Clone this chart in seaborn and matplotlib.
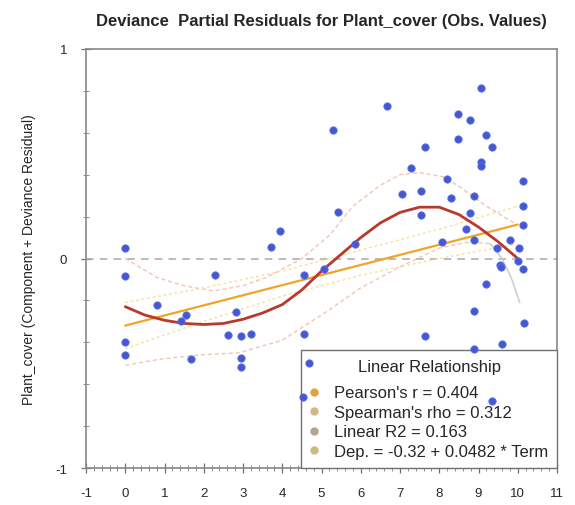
import matplotlib
matplotlib.use("Agg")
import matplotlib.pyplot as plt
from matplotlib.lines import Line2D
from matplotlib.ticker import MultipleLocator
import seaborn as sns
import pandas as pd

# ---------------- data ----------------
term_x = [0, 0, 0, 0, 0.82, 1.42, 1.55, 1.68, 2.28, 2.62, 2.81, 2.94, 2.94, 2.94,
          3.21, 3.71, 3.95, 4.53, 4.55, 4.55, 4.69, 5.06, 5.30, 5.41, 5.85, 6.68,
          7.05, 7.29, 7.54, 7.54, 7.63, 7.63, 8.08, 8.19, 8.29, 8.49, 8.49, 8.68,
          8.78, 8.79, 8.89, 8.89, 8.89, 8.89, 9.06, 9.06, 9.06, 9.18, 9.19, 9.35,
          9.35, 9.47, 9.55, 9.58, 9.60, 9.79, 10.0, 10.03, 10.14, 10.14, 10.14,
          10.14, 10.15]
resid_y = [0.05, -0.085, -0.40, -0.46, -0.22, -0.30, -0.27, -0.48, -0.08, -0.365,
           -0.255, -0.37, -0.475, -0.52, -0.36, 0.056, 0.13, -0.66, -0.08, -0.36,
           -0.50, -0.05, 0.615, 0.22, 0.07, 0.73, 0.31, 0.43, 0.32, 0.21, 0.53,
           -0.37, 0.08, 0.38, 0.29, 0.69, 0.57, 0.14, 0.66, 0.215, 0.30, 0.09,
           -0.25, -0.43, 0.815, 0.46, 0.44, 0.59, -0.12, 0.53, -0.68, 0.05, -0.03,
           -0.04, -0.41, 0.09, -0.01, 0.05, 0.37, 0.25, 0.16, -0.05, -0.31]

# smoother (red) curve
smooth_x = [0, 0.5, 1.0, 1.5, 2.0, 2.5, 3.0, 3.5, 4.0, 4.5, 5.0, 5.5, 6.0, 6.5,
            7.0, 7.5, 8.0, 8.5, 9.0, 9.5, 10.0]
smooth_y = [-0.23, -0.27, -0.295, -0.31, -0.315, -0.31, -0.29, -0.26, -0.22, -0.15,
            -0.06, 0.02, 0.10, 0.17, 0.22, 0.245, 0.245, 0.21, 0.15, 0.08, 0.0]

# smoother confidence band
band_up_x = [0, 0.8, 1.5, 2.25, 3.0, 3.6, 4.5, 5.2, 5.8, 6.5, 7.0, 7.5, 8.1, 8.5, 9.2, 9.9]
band_up_y = [0.0, -0.09, -0.13, -0.155, -0.13, -0.09, 0.0, 0.11, 0.25, 0.35, 0.40,
             0.41, 0.39, 0.345, 0.25, 0.17]
band_lo_x = [0, 0.9, 1.9, 2.9, 4.0, 5.2, 6.0, 7.0, 8.0, 8.8, 9.3]
band_lo_y = [-0.51, -0.48, -0.46, -0.45, -0.39, -0.245, -0.14, -0.04, 0.05, 0.08, 0.07]
band_end_x = [9.3, 9.6, 9.85, 10.05]
band_end_y = [0.07, 0.0, -0.10, -0.21]

# linear fit and its band
intercept = -0.32
slope = 0.0482
lin_x = [0, 10]
lin_up_x = [0, 2, 4, 5, 6, 8, 10]
lin_up_y = [-0.21, -0.14, -0.06, -0.01, 0.04, 0.14, 0.25]
lin_lo_x = [0, 2, 4, 5, 6, 8, 10]
lin_lo_y = [-0.43, -0.30, -0.18, -0.13, -0.08, 0.0, 0.07]

legend_labels = ["Pearson's r = 0.404", "Spearman's rho = 0.312",
                 "Linear R2 = 0.163", "Dep. = -0.32 + 0.0482 * Term"]
legend_colors = ["#e2a33a", "#d6b489", "#b3a48f", "#c9bb82"]

x_ticks = list(range(-1, 12))
y_ticks = [-1, 0, 1]

# ---------------- plotting ----------------
sns.set_theme(style="white")
plt.rcParams['font.family'] = ['Liberation Sans', 'DejaVu Sans']

fig = plt.figure(figsize=(5.75, 5.06), dpi=100)
ax = fig.add_axes([0.1496, 0.0731, 0.8191, 0.8281])

pts = pd.DataFrame({"x": term_x, "y": resid_y})
sm = pd.DataFrame({"x": smooth_x, "y": smooth_y})
lin = pd.DataFrame({"x": lin_x, "y": [intercept + slope * v for v in lin_x]})

ax.axhline(0, color="#a8a8a8", lw=1.1, ls=(0, (5, 4)), zorder=1)

sns.lineplot(x=band_up_x, y=band_up_y, ax=ax, color="#f5c4b2", lw=1.0,
             linestyle=(0, (3, 2)), estimator=None, sort=False, zorder=2)
sns.lineplot(x=band_lo_x, y=band_lo_y, ax=ax, color="#f5c4b2", lw=1.0,
             linestyle=(0, (3, 2)), estimator=None, sort=False, zorder=2)
sns.lineplot(x=band_end_x, y=band_end_y, ax=ax, color="#cfcfcf", lw=1.2,
             estimator=None, sort=False, zorder=2)
sns.lineplot(x=lin_up_x, y=lin_up_y, ax=ax, color="#f7e09a", lw=1.0,
             linestyle=(0, (2, 2)), estimator=None, sort=False, zorder=2)
sns.lineplot(x=lin_lo_x, y=lin_lo_y, ax=ax, color="#f7e09a", lw=1.0,
             linestyle=(0, (2, 2)), estimator=None, sort=False, zorder=2)

sns.lineplot(data=lin, x="x", y="y", ax=ax, color="#f0a428", lw=1.6,
             estimator=None, zorder=3)
sns.lineplot(data=sm, x="x", y="y", ax=ax, color="#b8392e", lw=2.0,
             estimator=None, zorder=4)

ax.set_xlim(-1, 11)
ax.set_ylim(-1, 1)
ax.set_xticks(x_ticks)
ax.set_xticklabels([str(t) for t in x_ticks])
ax.set_yticks(y_ticks)
ax.set_yticklabels([str(t) for t in y_ticks])
ax.xaxis.set_minor_locator(MultipleLocator(0.2))
ax.yaxis.set_minor_locator(MultipleLocator(0.2))
ax.tick_params(axis="both", which="major", direction="inout", length=7, width=0.9,
               color="#707070", labelsize=9.5, pad=10, bottom=True, left=True)
ax.tick_params(axis="both", which="minor", direction="inout", length=4, width=0.7,
               color="#909090", bottom=True, left=True)
for s in ax.spines.values():
    s.set_color("#888888")
    s.set_linewidth(1.2)

ax.set_title("Deviance  Partial Residuals for Plant_cover (Obs. Values)",
             fontsize=12, fontweight="bold", pad=17)

handles = [Line2D([], [], ls="none", marker="o", ms=5, mfc=c, mec=c)
           for c in legend_colors]
leg = ax.legend(handles, legend_labels, loc="lower right", borderaxespad=0,
                title="Linear Relationship", fontsize=12.0, title_fontsize=12,
                frameon=True, fancybox=False, edgecolor="#707070",
                handlelength=0.5, handletextpad=0.9, labelspacing=0.27,
                borderpad=0.55, framealpha=1)
leg.get_frame().set_linewidth(1.0)
leg._legend_box.sep = 8
leg.set_zorder(5)

sns.scatterplot(data=pts, x="x", y="y", ax=ax, color="#4558d4", s=28,
                edgecolor="#5c6fe0", linewidth=0.6, zorder=6, legend=False)
ax.set_xlabel("")
ax.set_ylabel("Plant_cover (Component + Deviance Residual)", fontsize=10, labelpad=14)

fig.savefig("out.png", dpi=100)
